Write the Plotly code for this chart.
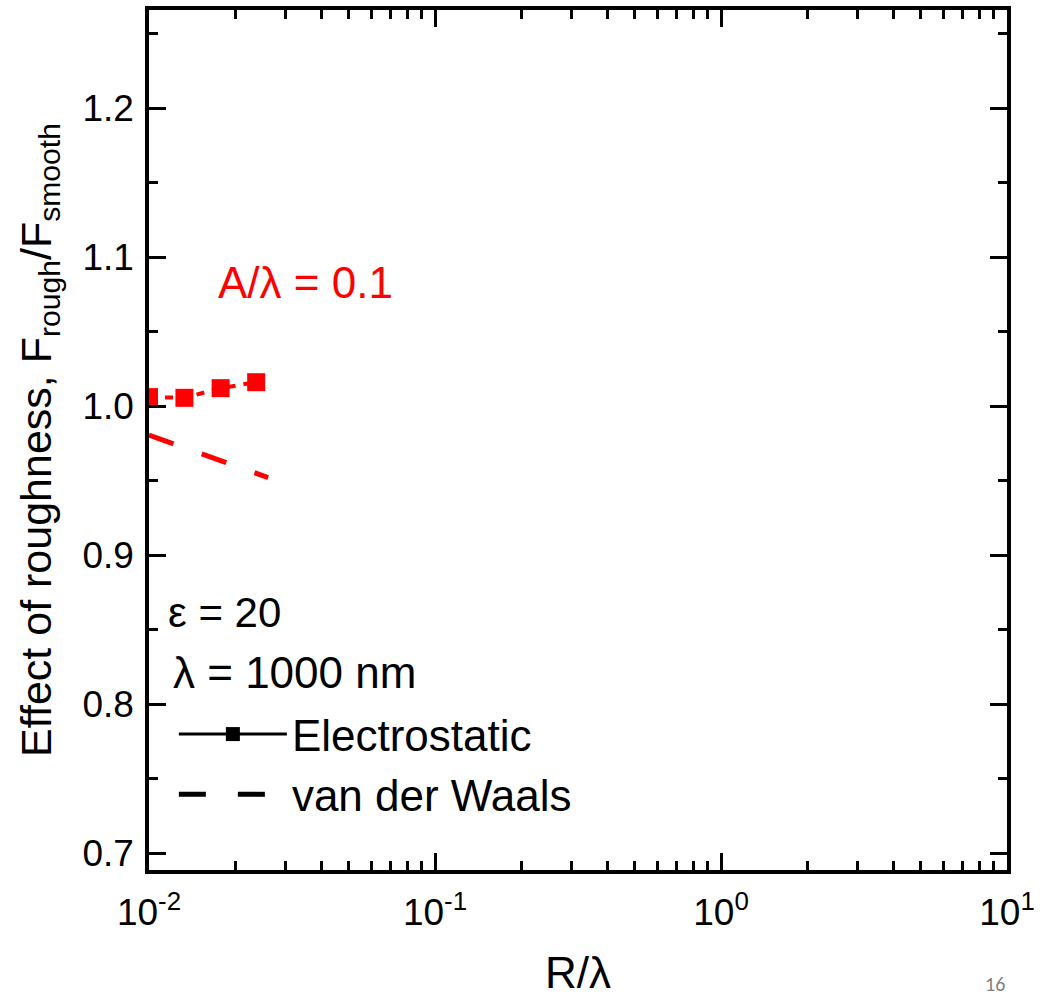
import plotly.graph_objects as go

# Data
es_x = [0.0100, 0.0133, 0.0178, 0.0237]
es_y = [1.006, 1.0055, 1.012, 1.016]
vdw_x = [0.0100, 0.0133, 0.0178, 0.0237, 0.0261]
vdw_y = [0.9805, 0.972, 0.963, 0.955, 0.952]

x_tickvals = [0.01, 0.1, 1, 10]
x_ticktext = ["10<sup>-2</sup>", "10<sup>-1</sup>", "10<sup>0</sup>", "10<sup>1</sup>"]
y_tickvals = [0.7, 0.8, 0.9, 1.0, 1.1, 1.2]
x_minor = [m * 10.0 ** e for e in (-2, -1, 0) for m in range(2, 10)]

RED = "#ff0000"
FONT = "Liberation Sans, Arial, sans-serif"

fig = go.Figure()

# visible data traces (no legend)
fig.add_trace(go.Scatter(
    x=vdw_x, y=vdw_y, mode="lines", showlegend=False,
    line=dict(color=RED, width=5, dash="26px,30px"),
))
fig.add_trace(go.Scatter(
    x=es_x, y=es_y, mode="lines+markers", showlegend=False,
    line=dict(color=RED, width=4, dash="8px,8px"),
    marker=dict(symbol="square", size=18, color=RED),
))

# legend entries (black, as in reference)
fig.add_trace(go.Scatter(
    x=[None], y=[None], mode="lines+markers", name="Electrostatic",
    line=dict(color="black", width=3),
    marker=dict(symbol="square", size=14, color="black"),
))
fig.add_trace(go.Scatter(
    x=[None], y=[None], mode="lines", name="van der Waals",
    line=dict(color="black", width=5, dash="27px,32px"),
))

fig.update_layout(
    width=1047, height=997,
    margin=dict(l=149, r=40, t=10, b=127),
    paper_bgcolor="white", plot_bgcolor="white",
    font=dict(family=FONT, color="black", size=37),
    legend=dict(
        x=0.029, y=0.1227, xanchor="left", yanchor="middle",
        bgcolor="rgba(0,0,0,0)", font=dict(size=44),
        itemwidth=108, tracegroupgap=0, itemsizing="trace",
    ),
    showlegend=True,
)

fig.update_xaxes(
    type="log", range=[-2, 1], automargin=False,
    tickvals=x_tickvals, ticktext=x_ticktext,
    ticks="inside", ticklen=17, tickwidth=3, tickcolor="black",
    showline=True, linewidth=3.5, linecolor="black", mirror="allticks",
    showgrid=False, zeroline=False,
    tickfont=dict(size=37), ticklabelstandoff=7,
    minor=dict(tickvals=x_minor, ticks="inside", ticklen=9, tickwidth=3,
               tickcolor="black", showgrid=False),
    title=dict(text="R/λ", font=dict(size=44), standoff=41),
)
fig.update_yaxes(
    range=[0.6886, 1.2658], automargin=False,
    tickvals=y_tickvals, tickformat=".1f",
    ticks="inside", ticklen=17, tickwidth=3, tickcolor="black",
    showline=True, linewidth=3.5, linecolor="black", mirror="allticks",
    showgrid=False, zeroline=False,
    tickfont=dict(size=37), ticklabelstandoff=4,
    minor=dict(ticks="inside", ticklen=9, tickwidth=3, tickcolor="black",
               dtick=0.05, showgrid=False),
    title=dict(text="Effect of roughness, F<sub>rough</sub>/F<sub>smooth</sub>",
               font=dict(size=43), standoff=18),
)

annos = [
    dict(text="A/λ = 0.1", x=0.078, y=0.6826, font=dict(size=44, color=RED)),
    dict(text="ε = 20", x=0.0195, y=0.30, font=dict(size=42, color="black")),
    dict(text="λ = 1000 nm", x=0.026, y=0.230, font=dict(size=44, color="black")),
]
for a in annos:
    fig.add_annotation(xref="paper", yref="paper", xanchor="left", yanchor="middle",
                       showarrow=False, **a)

fig.add_annotation(text="16", xref="paper", yref="paper", x=0.986, y=-0.1326,
                   xanchor="center", yanchor="middle", showarrow=False,
                   font=dict(size=20, color="#7f7f7f",
                             family="Carlito, Calibri, Liberation Sans, sans-serif"))

fig.write_html("out.html", config={"displayModeBar": False},
               post_script="document.body.style.margin='0';document.body.style.overflow='hidden';")
